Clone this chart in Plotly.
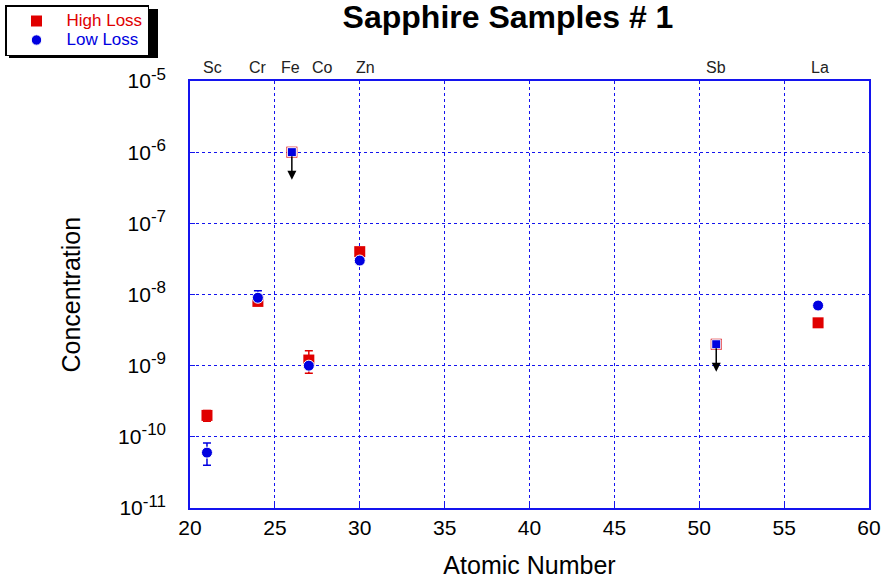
import math
import plotly.graph_objects as go

# ---- data ----
elements = ["Sc", "Cr", "Fe", "Co", "Zn", "Sb", "La"]
atomic_number = [21, 24, 26, 27, 30, 51, 57]
high_loss = [2.0e-10, 8.0e-9, 1.0e-6, 1.2e-9, 4.0e-8, 2.0e-9, 4.0e-9]
high_loss_err = [0.35e-10, 0.0, 0.0, 0.42e-9, 0.0, 0.0, 0.0]
low_loss = [6.0e-11, 9.0e-9, 1.0e-6, 1.0e-9, 3.0e-8, 2.0e-9, 7.0e-9]
low_loss_err_plus = [2.2e-11, 2.3e-9, 0.0, 0.0, 0.0, 0.0, 0.0]
low_loss_err_minus = [2.0e-11, 1.0e-9, 0.0, 0.0, 0.0, 0.0, 0.0]
upper_limit = [False, False, True, False, False, True, False]
x_ticks = [20, 25, 30, 35, 40, 45, 50, 55, 60]
y_exponents = [-11, -10, -9, -8, -7, -6, -5]

# ---- style ----
W, H = 882, 580
ML, MR, MT, MB = 190, 13, 81, 72
FONT = "Liberation Sans, Arial, sans-serif"
RED = "#e00000"
BLUE = "#0000e0"
AXIS_BLUE = "#1414ee"
label_xshift = [6, 0, -1, 14, 6, 0, 2]

def px_to_paper_x(px):
    return (px - ML) / (W - ML - MR)

def px_to_paper_y(py):
    return 1 - (py - MT) / (H - MT - MB)

fig = go.Figure()

fig.add_trace(go.Scatter(
    x=atomic_number, y=high_loss, mode="markers",
    name=f"<span style='color:{RED};font-size:17px'>High Loss</span>",
    marker=dict(symbol="square", size=11, color=RED, opacity=1),
    error_y=dict(type="data", array=high_loss_err, color=RED, thickness=1.5, width=4),
))

low_symbols = ["square" if u else "circle" for u in upper_limit]
low_sizes = [9 if u else 11 for u in upper_limit]
fig.add_trace(go.Scatter(
    x=atomic_number, y=low_loss, mode="markers",
    name=f"<span style='color:{BLUE};font-size:17px'>Low Loss</span>",
    marker=dict(symbol=low_symbols, size=low_sizes, color=BLUE, opacity=1),
    error_y=dict(type="data", symmetric=False, array=low_loss_err_plus,
                 arrayminus=low_loss_err_minus, color=BLUE, thickness=1.5, width=4),
))

annotations = []
# upper-limit arrows
for xv, yv, lim in zip(atomic_number, high_loss, upper_limit):
    if lim:
        annotations.append(dict(
            x=xv, y=math.log10(yv), xref="x", yref="y", text="",
            showarrow=True, ax=0, ay=29, arrowside="start",
            startarrowhead=2, startarrowsize=1.2, arrowwidth=1.5,
            arrowcolor="black", standoff=4,
        ))
# element labels above plot
for name, xv, sh in zip(elements, atomic_number, label_xshift):
    annotations.append(dict(
        x=xv, y=1, xref="x", yref="paper", text=name, showarrow=False,
        yanchor="bottom", xanchor="center", xshift=sh, yshift=3,
        font=dict(family=FONT, size=16, color="#222222"),
    ))
# y-axis title
annotations.append(dict(
    x=px_to_paper_x(70), y=0.5, xref="paper", yref="paper", text="Concentration",
    textangle=-90, showarrow=False, xanchor="center", yanchor="middle",
    font=dict(family=FONT, size=25, color="black"),
))

shapes = [
    # legend shadow
    dict(type="rect", xref="paper", yref="paper",
         x0=px_to_paper_x(9), x1=px_to_paper_x(158),
         y0=px_to_paper_y(9), y1=px_to_paper_y(58),
         fillcolor="black", line=dict(width=0), layer="above"),
]

axis_common = dict(
    showline=True, linecolor=AXIS_BLUE, linewidth=1.5, mirror=True,
    showgrid=True, gridcolor=AXIS_BLUE, gridwidth=1, griddash="dot",
    ticks="inside", ticklen=5, tickcolor=AXIS_BLUE, tickwidth=1,
    zeroline=False, automargin=True,
    tickfont=dict(family=FONT, size=21, color="black"),
    title_font=dict(family=FONT, size=25, color="black"),
)

fig.update_layout(
    width=W, height=H,
    margin=dict(l=ML, r=MR, t=MT, b=MB, autoexpand=False),
    paper_bgcolor="white", plot_bgcolor="white",
    font=dict(family=FONT),
    title=dict(text="<b>Sapphire Samples # 1</b>", x=508 / W, xref="container",
               xanchor="center", y=1 - 17 / H, yref="container", yanchor="middle",
               font=dict(family=FONT, size=32, color="black")),
    xaxis=dict(range=[20, 60], tickvals=x_ticks, ticktext=[str(v) for v in x_ticks],
               title=dict(text="Atomic Number", standoff=19), **axis_common),
    yaxis=dict(type="log", range=[-11, -5],
               tickvals=[10.0 ** e for e in y_exponents],
               ticktext=[f"10<sup><span style='font-size:17px'>{e}</span></sup>" for e in y_exponents],
               ticklabelstandoff=18, **axis_common),
    legend=dict(xref="container", yref="container", x=5 / W, y=1 - 5 / H,
                xanchor="left", yanchor="top", bgcolor="white",
                bordercolor="black", borderwidth=1.5, itemwidth=50,
                entrywidth=96, entrywidthmode="pixels",
                font=dict(family=FONT, size=12),
                tracegroupgap=0),
    showlegend=True,
    annotations=annotations,
    shapes=shapes,
)

fig.write_html("out.html")
